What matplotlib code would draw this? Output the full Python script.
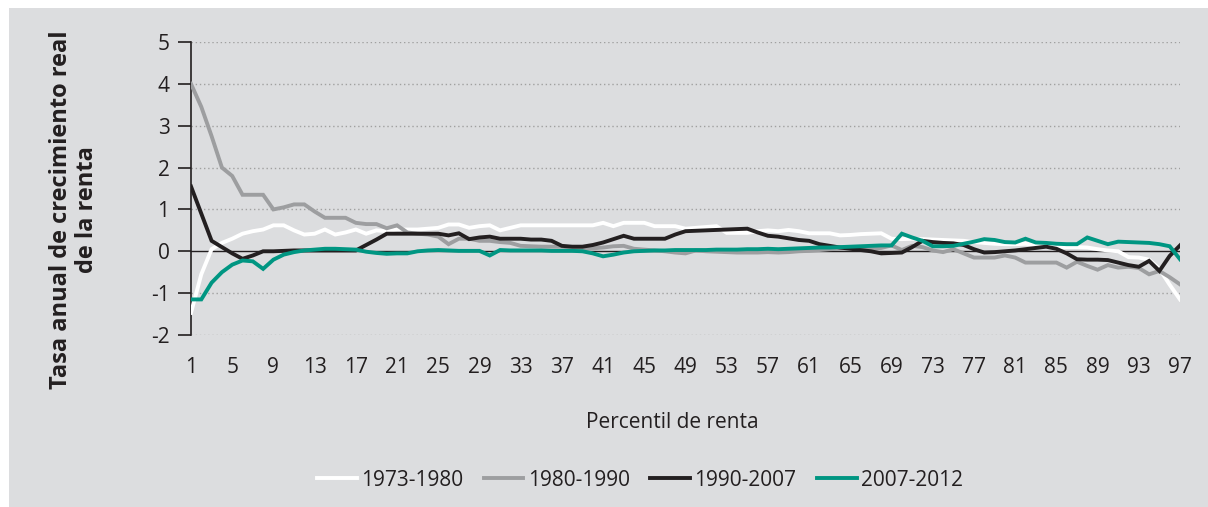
import matplotlib.pyplot as plt
import matplotlib.patches as mpatches

plt.rcParams['font.family'] = ['Open Sans', 'DejaVu Sans']
plt.rcParams['axes.unicode_minus'] = False

# datos: tasa anual de crecimiento real de la renta por percentil
percentiles = list(range(1, 98))

s1973_1980 = [
    -1.47, -0.55, 0.05, 0.2, 0.3, 0.42, 0.48, 0.52, 0.62, 0.62,
    0.5, 0.4, 0.42, 0.52, 0.4, 0.45, 0.52, 0.42, 0.5, 0.48,
    0.52, 0.52, 0.52, 0.54, 0.56, 0.64, 0.64, 0.56, 0.6, 0.62,
    0.5, 0.56, 0.62, 0.62, 0.62, 0.62, 0.62, 0.62, 0.62, 0.62,
    0.68, 0.6, 0.68, 0.68, 0.68, 0.6, 0.6, 0.6, 0.54, 0.56,
    0.58, 0.6, 0.44, 0.44, 0.44, 0.48, 0.5, 0.48, 0.51, 0.48,
    0.43, 0.43, 0.43, 0.38, 0.39, 0.41, 0.42, 0.43, 0.3, 0.29,
    0.3, 0.29, 0.28, 0.27, 0.26, 0.25, 0.22, 0.2, 0.18, 0.17,
    0.17, 0.18, 0.15, 0.12, 0.1, 0.1, 0.1, 0.09, 0.05, 0.02,
    0.0, -0.14, -0.15, -0.2, -0.42, -0.8, -1.15]

s1980_1990 = [
    4.0, 3.45, 2.75, 2.0, 1.8, 1.35, 1.35, 1.35, 1.0, 1.05,
    1.12, 1.12, 0.95, 0.8, 0.8, 0.8, 0.68, 0.65, 0.65, 0.55,
    0.62, 0.45, 0.42, 0.4, 0.35, 0.17, 0.3, 0.3, 0.25, 0.25,
    0.22, 0.2, 0.13, 0.12, 0.11, 0.11, 0.11, 0.08, 0.05, 0.07,
    0.09, 0.12, 0.13, 0.06, 0.04, 0.02, 0.0, -0.03, -0.05, 0.02,
    0.0, -0.01, -0.02, -0.03, -0.03, -0.03, -0.02, -0.03, -0.02, 0.0,
    0.01, 0.03, 0.05, 0.06, 0.06, 0.06, 0.06, 0.08, 0.14, 0.03,
    0.13, 0.1, 0.02, -0.02, 0.05, -0.05, -0.15, -0.15, -0.15, -0.1,
    -0.15, -0.27, -0.27, -0.27, -0.27, -0.39, -0.25, -0.35, -0.44, -0.33,
    -0.39, -0.37, -0.4, -0.55, -0.47, -0.62, -0.79]

s1990_2007 = [
    1.55, 0.9, 0.25, 0.1, -0.05, -0.18, -0.1, 0.0, 0.0, 0.01,
    0.02, 0.02, 0.02, 0.02, 0.02, 0.02, 0.02, 0.15, 0.28, 0.42,
    0.42, 0.42, 0.42, 0.42, 0.42, 0.38, 0.43, 0.29, 0.33, 0.35,
    0.3, 0.3, 0.3, 0.28, 0.28, 0.25, 0.13, 0.11, 0.11, 0.15,
    0.21, 0.29, 0.37, 0.3, 0.3, 0.3, 0.3, 0.4, 0.48, 0.49,
    0.5, 0.51, 0.52, 0.53, 0.54, 0.45, 0.37, 0.35, 0.31, 0.27,
    0.25, 0.17, 0.13, 0.09, 0.06, 0.03, 0.0, -0.05, -0.04, -0.03,
    0.1, 0.25, 0.22, 0.2, 0.19, 0.15, 0.05, -0.03, -0.02, 0.0,
    0.02, 0.05, 0.08, 0.11, 0.06, -0.05, -0.19, -0.2, -0.2, -0.21,
    -0.27, -0.33, -0.37, -0.23, -0.47, -0.11, 0.14]

s2007_2012 = [
    -1.15, -1.15, -0.75, -0.5, -0.32, -0.22, -0.24, -0.42, -0.2, -0.08,
    -0.02, 0.02, 0.04, 0.06, 0.06, 0.05, 0.04, -0.01, -0.04, -0.06,
    -0.05, -0.05, 0.0, 0.02, 0.03, 0.02, 0.01, 0.01, 0.01, -0.1,
    0.03, 0.02, 0.02, 0.02, 0.02, 0.01, 0.01, 0.01, 0.0, -0.05,
    -0.12, -0.08, -0.03, 0.0, 0.01, 0.02, 0.02, 0.03, 0.03, 0.03,
    0.03, 0.04, 0.04, 0.04, 0.05, 0.05, 0.06, 0.05, 0.06, 0.07,
    0.08, 0.09, 0.09, 0.1, 0.11, 0.12, 0.13, 0.14, 0.14, 0.42,
    0.33, 0.25, 0.12, 0.12, 0.13, 0.18, 0.23, 0.29, 0.27, 0.22,
    0.21, 0.3, 0.21, 0.2, 0.18, 0.17, 0.17, 0.33, 0.25, 0.17,
    0.23, 0.22, 0.21, 0.2, 0.17, 0.12, -0.19]

series = [
    ("1973-1980", s1973_1980, "#ffffff"),
    ("1980-1990", s1980_1990, "#9d9ea0"),
    ("1990-2007", s1990_2007, "#231f20"),
    ("2007-2012", s2007_2012, "#009682"),
]

xticks = list(range(1, 98, 4))

W, H = 1208, 507
fig = plt.figure(figsize=(W / 100, H / 100), dpi=100)
fig.patch.set_facecolor("white")
bg = "#dcdddf"
fig.patches.append(mpatches.Rectangle((9 / W, 0), 1 - 9 / W, 1 - 8 / H,
                                      transform=fig.transFigure,
                                      facecolor=bg, edgecolor="none", zorder=-10))

ax = fig.add_axes([191 / W, 1 - 335 / H, (1180 - 191) / W, (335 - 42) / H])
ax.set_facecolor("none")
ax.set_zorder(1)

for lab, vals, col in series:
    ax.plot(percentiles, vals, color=col, linewidth=2.8, label=lab,
            solid_joinstyle="miter", zorder=3)

ax.axhline(0, color="#231f20", linewidth=1.0, zorder=2)
for v in [-2, -1, 1, 2, 3, 4, 5]:
    ax.axhline(v, color="#a0a0a0", linewidth=1.0, linestyle=(0, (1, 2)), zorder=1)

ax.set_xlim(1, 97)
ax.set_ylim(-2, 5)
ax.set_yticks(range(-2, 6))
ax.set_xticks(xticks)

for s in ["top", "right", "bottom"]:
    ax.spines[s].set_visible(False)
ax.spines["left"].set_color("#231f20")
ax.spines["left"].set_linewidth(1.2)

ax.tick_params(axis="y", direction="out", length=9.5, width=1.2,
               colors="#231f20", labelsize=15, pad=6)
ax.tick_params(axis="x", length=0, labelsize=15, pad=16, colors="#231f20")

fig.text(74 / W, 1 - 210 / H, "Tasa anual de crecimiento real\nde la renta",
         rotation=90, ha="center", va="center", multialignment="center",
         fontsize=17, fontweight="bold", color="#231f20", linespacing=1.15)

fig.text(672 / W, 1 - 422 / H, "Percentil de renta", ha="center", va="center",
         fontsize=15, color="#231f20")

fig.legend(loc="center", bbox_to_anchor=(640 / W, 1 - 480 / H), ncol=4,
           frameon=False, fontsize=15, handlelength=1.9, handletextpad=0.2,
           columnspacing=1.0, labelcolor="#231f20")

fig.savefig("out.png", dpi=100, facecolor=fig.get_facecolor())
